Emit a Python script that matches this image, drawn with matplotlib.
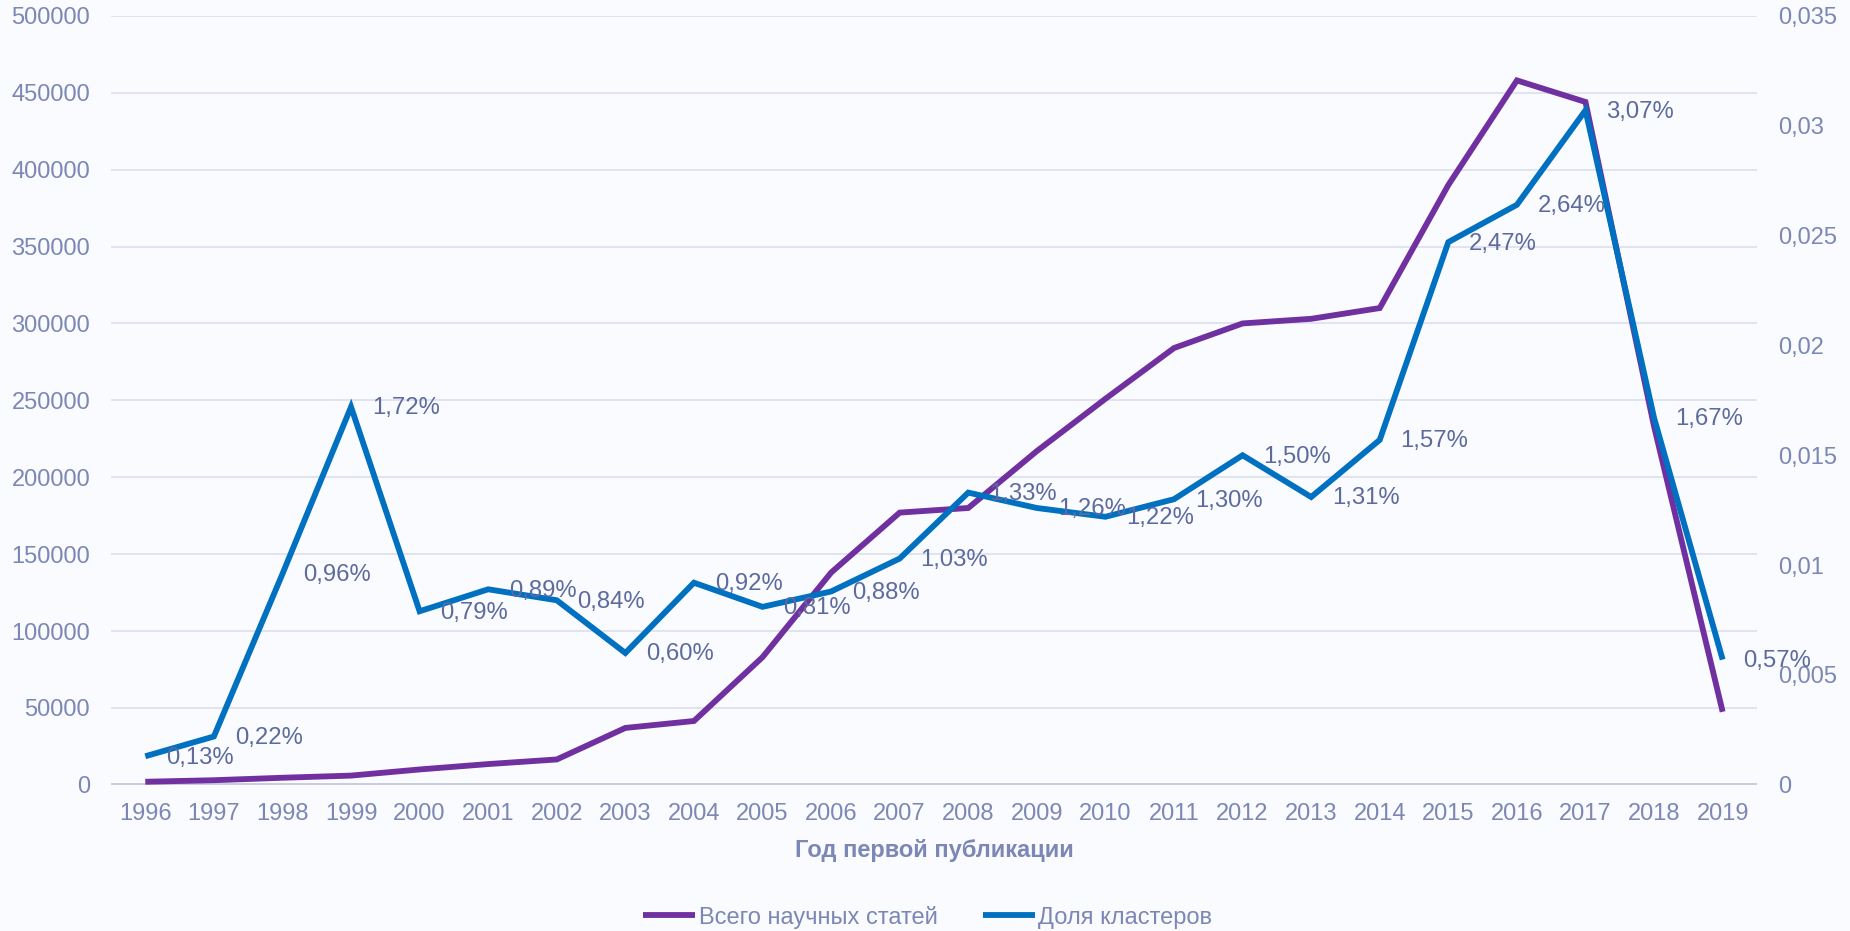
import numpy as np
import matplotlib.pyplot as plt
from matplotlib.ticker import FuncFormatter

plt.rcParams['font.family'] = ['Liberation Sans', 'DejaVu Sans']

# Data
years = list(range(1996, 2020))
total_articles = [2000, 3000, 4600, 6000, 10000, 13500, 16500, 37000, 41500, 83000,
                  138000, 177000, 180000, 217000, 251000, 284000, 300000, 303000,
                  310000, 390000, 458000, 444000, 233000, 47500]
cluster_share = [0.0013, 0.0022, 0.0096, 0.0172, 0.0079, 0.0089, 0.0084, 0.0060,
                 0.0092, 0.0081, 0.0088, 0.0103, 0.0133, 0.0126, 0.0122, 0.0130,
                 0.0150, 0.0131, 0.0157, 0.0247, 0.0264, 0.0307, 0.0167, 0.0057]

bg = '#F9FBFF'
tick_col = '#7C87B5'
label_col = '#5D6A9E'
purple = '#7030A0'
blue = '#0070C0'

fig = plt.figure(figsize=(18.5, 9.31), dpi=100, facecolor=bg)
ax = fig.add_axes([0.06, 0.157, 0.8897, 0.826])
ax.set_facecolor(bg)
ax2 = ax.twinx()

x = np.arange(len(years))
ax.plot(x, total_articles, color=purple, lw=4.2, solid_joinstyle='miter',
        solid_capstyle='butt', label='Всего научных статей')
ax2.plot(x, cluster_share, color=blue, lw=4.2, solid_joinstyle='miter',
         solid_capstyle='butt', label='Доля кластеров')

# percentage labels to the right of each point
for xi, v in zip(x, cluster_share):
    ax2.annotate(f"{v * 100:.2f}%".replace('.', ','), (xi, v), xytext=(15, -1),
                 textcoords='offset points', ha='left', va='center',
                 fontsize=17.2, color=label_col, zorder=5)

ax.set_xlim(-0.5, len(years) - 0.5)
ax.set_ylim(0, 500000)
ax2.set_ylim(0, 0.035)
ax.set_yticks(np.arange(0, 500001, 50000))
ax2.set_yticks(np.arange(0, 0.0351, 0.005))
ax.yaxis.set_major_formatter(FuncFormatter(lambda v, p: f"{int(round(v))}"))
ax2.yaxis.set_major_formatter(
    FuncFormatter(lambda v, p: "0" if abs(v) < 1e-12 else f"{round(v, 3):g}".replace('.', ',')))
ax.set_xticks(x)
ax.set_xticklabels([str(y) for y in years])

ax.grid(axis='y', color='#DFE2EE', lw=1.3)
ax.set_axisbelow(True)
for a in (ax, ax2):
    for s in ('top', 'left', 'right', 'bottom'):
        a.spines[s].set_visible(False)
ax.axhline(0, color='#C6CBDD', lw=3.5, zorder=1.5)

ax.tick_params(axis='y', length=0, pad=15, labelsize=17, labelcolor=tick_col)
ax.tick_params(axis='x', length=0, pad=13, labelsize=17, labelcolor=tick_col)
ax2.tick_params(axis='y', length=0, pad=15, labelsize=17, labelcolor=tick_col)

ax.set_xlabel('Год первой публикации', fontsize=17, fontweight='bold',
              color=tick_col, labelpad=10)

h1, l1 = ax.get_legend_handles_labels()
h2, l2 = ax2.get_legend_handles_labels()
fig.legend(h1 + h2, l1 + l2, loc='center', bbox_to_anchor=(0.5015, 0.015),
           ncol=2, frameon=False, fontsize=17, labelcolor=tick_col,
           handlelength=2.2, handletextpad=0.15, columnspacing=1.9)

fig.savefig('out.png', dpi=100, facecolor=bg)
